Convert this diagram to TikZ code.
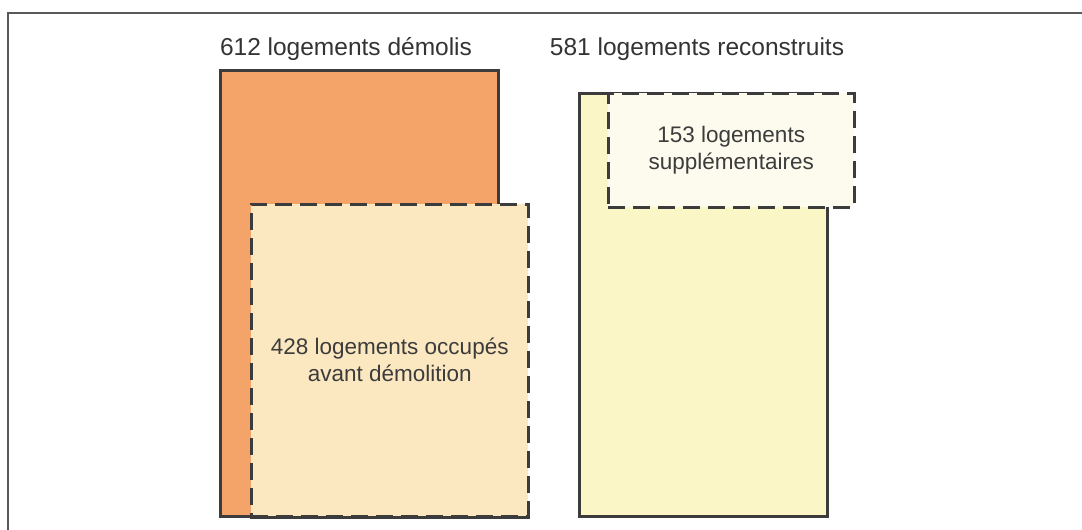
\documentclass[tikz,border=0pt]{standalone}
\usepackage{fontspec}
\setmainfont{Liberation Sans}
\usetikzlibrary{positioning}

\definecolor{demolicol}{HTML}{F4A469}
\definecolor{occupcol}{HTML}{FCE8C0}
\definecolor{reconcol}{HTML}{FBF6C6}
\definecolor{suppcol}{HTML}{FCFBEE}
\definecolor{trait}{HTML}{3C3C3C}

\begin{document}
\begin{tikzpicture}[x=1pt,y=-1pt,
		plein/.style={draw=trait, line width=2.5pt, anchor=north west, inner sep=0pt},
		tirets/.style={draw=trait, line width=2.5pt, dash pattern=on 17pt off 8pt, anchor=north west, inner sep=0pt, align=center, text=trait, font=\fontsize{22.5}{27}\selectfont},
		titre/.style={anchor=base, text=black!80, font=\fontsize{24.5}{28}\selectfont}]
		\useasboundingbox (0,0) rectangle (1082,530);
		% cadre
		\draw[black!65, line width=1.5pt] (8,530) -- (8,13) -- (1082,13);
		
		% avant
		\node[plein, fill=demolicol, minimum width=278, minimum height=446] (demolis) at (219,69) {};
		\node[tirets, fill=occupcol, minimum width=277, minimum height=312] (occupes) at (250,203) {428 logements occupés\\avant démolition};
		\draw[trait, line width=2.5pt] (occupes.south west) -- (occupes.south east);
		\node[titre] (tdemolis) at (346,55) {612 logements démolis};
		
		% apres
		\node[plein, fill=reconcol, minimum width=248, minimum height=423] (reconstruits) at (578,92) {};
		\node[tirets, fill=suppcol, minimum width=246, minimum height=114] (supp) at (607,92) {153 logements\\supplémentaires};
		\node[titre] (treconstruits) at (697,55) {581 logements reconstruits};
	\end{tikzpicture}
\end{document}
